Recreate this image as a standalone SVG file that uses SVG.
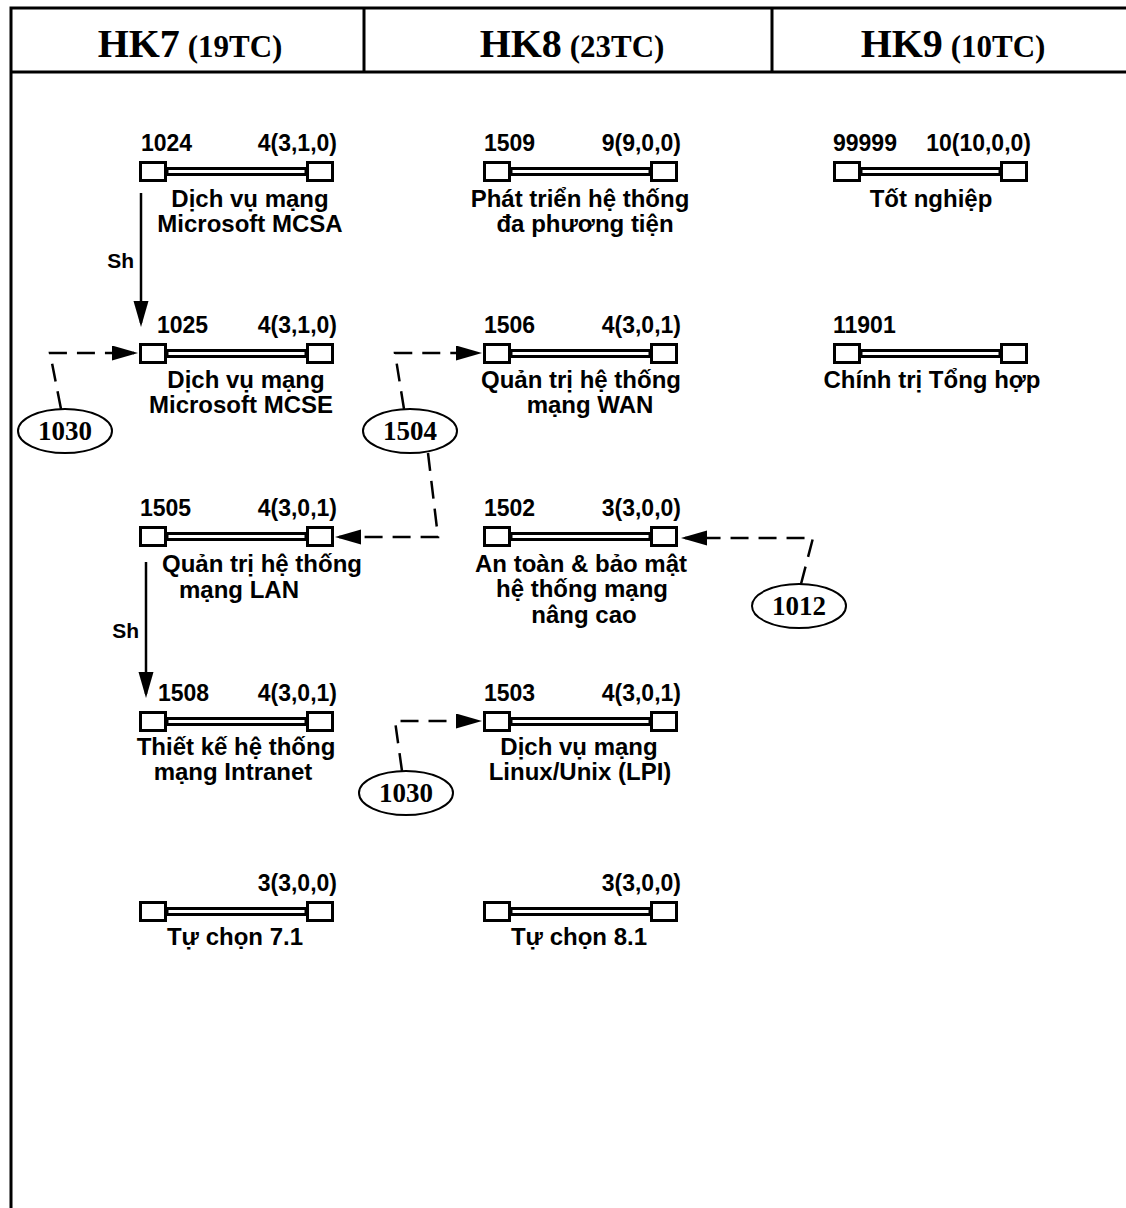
<svg xmlns="http://www.w3.org/2000/svg" width="1126" height="1208" viewBox="0 0 1126 1208">
<defs>
<style>
.frame{fill:none;stroke:#000;stroke-width:3}
.box{fill:#fff;stroke:#000;stroke-width:3}
.bar{fill:#fff;stroke:#000;stroke-width:3}
.t{font-family:"Liberation Sans",Arial,sans-serif;font-weight:bold;font-size:23px;fill:#000}
.l{font-size:24px}
.c{text-anchor:middle}
.r{text-anchor:end}
.sh{font-family:"Liberation Sans",Arial,sans-serif;font-weight:bold;font-size:21px;fill:#000;text-anchor:end}
.h{font-family:"Liberation Serif","Times New Roman",serif;font-weight:bold;fill:#000;text-anchor:middle}
.hb{font-size:40px}
.hs{font-size:31px}
.el{fill:#fff;stroke:#000;stroke-width:2}
.et{font-family:"Liberation Serif","Times New Roman",serif;font-weight:bold;font-size:27px;fill:#000;text-anchor:middle}
.dash{fill:none;stroke:#000;stroke-width:2.5;stroke-dasharray:18 10}
.solid{fill:none;stroke:#000;stroke-width:2.5}
</style>
<marker id="ah" markerUnits="userSpaceOnUse" viewBox="0 0 28 16" markerWidth="28" markerHeight="16" refX="22" refY="7.5" orient="auto">
<path d="M0,0 L26,7.5 L0,15 z" fill="#000"/>
</marker>
</defs>
<rect width="1126" height="1208" fill="#fff"/>
<g id="frame">
<path class="frame" d="M11 1208 V8 H1126 M11 72 H1126 M364 8 V72 M772 8 V72"/>
<text class="h" x="190" y="57"><tspan class="hb">HK7</tspan><tspan class="hs"> (19TC)</tspan></text>
<text class="h" x="572" y="57"><tspan class="hb">HK8</tspan><tspan class="hs"> (23TC)</tspan></text>
<text class="h" x="953" y="57"><tspan class="hb">HK9</tspan><tspan class="hs"> (10TC)</tspan></text>
</g>
<g id="n1024" transform="translate(139,161)">
<rect class="bar" x="28" y="7.5" width="139" height="6"/>
<rect class="box" x="1.5" y="1.5" width="25" height="18"/>
<rect class="box" x="168.5" y="1.5" width="25" height="18"/>
<text class="t" x="2" y="-10">1024</text>
<text class="t r" x="198" y="-10">4(3,1,0)</text>
<text class="t l c" x="111" y="46">Dịch vụ mạng</text>
<text class="t l c" x="111" y="71">Microsoft MCSA</text>
</g>
<g id="n1025" transform="translate(139,343)">
<rect class="bar" x="28" y="7.5" width="139" height="6"/>
<rect class="box" x="1.5" y="1.5" width="25" height="18"/>
<rect class="box" x="168.5" y="1.5" width="25" height="18"/>
<text class="t" x="18" y="-10">1025</text>
<text class="t r" x="198" y="-10">4(3,1,0)</text>
<text class="t l c" x="107" y="45">Dịch vụ mạng</text>
<text class="t l c" x="102" y="70">Microsoft MCSE</text>
</g>
<g id="n1505" transform="translate(139,526)">
<rect class="bar" x="28" y="7.5" width="139" height="6"/>
<rect class="box" x="1.5" y="1.5" width="25" height="18"/>
<rect class="box" x="168.5" y="1.5" width="25" height="18"/>
<text class="t" x="1" y="-10">1505</text>
<text class="t r" x="198" y="-10">4(3,0,1)</text>
<text class="t l c" x="123" y="46">Quản trị hệ thống</text>
<text class="t l c" x="100" y="72">mạng LAN</text>
</g>
<g id="n1508" transform="translate(139,711)">
<rect class="bar" x="28" y="7.5" width="139" height="6"/>
<rect class="box" x="1.5" y="1.5" width="25" height="18"/>
<rect class="box" x="168.5" y="1.5" width="25" height="18"/>
<text class="t" x="19" y="-10">1508</text>
<text class="t r" x="198" y="-10">4(3,0,1)</text>
<text class="t l c" x="97" y="44">Thiết kế hệ thống</text>
<text class="t l c" x="94" y="69">mạng Intranet</text>
</g>
<g id="ntc71" transform="translate(139,901)">
<rect class="bar" x="28" y="7.5" width="139" height="6"/>
<rect class="box" x="1.5" y="1.5" width="25" height="18"/>
<rect class="box" x="168.5" y="1.5" width="25" height="18"/>
<text class="t r" x="198" y="-10">3(3,0,0)</text>
<text class="t l c" x="96" y="44">Tự chọn 7.1</text>
</g>
<g id="n1509" transform="translate(483,161)">
<rect class="bar" x="28" y="7.5" width="139" height="6"/>
<rect class="box" x="1.5" y="1.5" width="25" height="18"/>
<rect class="box" x="168.5" y="1.5" width="25" height="18"/>
<text class="t" x="1" y="-10">1509</text>
<text class="t r" x="198" y="-10">9(9,0,0)</text>
<text class="t l c" x="97" y="46">Phát triển hệ thống</text>
<text class="t l c" x="102" y="71">đa phương tiện</text>
</g>
<g id="n1506" transform="translate(483,343)">
<rect class="bar" x="28" y="7.5" width="139" height="6"/>
<rect class="box" x="1.5" y="1.5" width="25" height="18"/>
<rect class="box" x="168.5" y="1.5" width="25" height="18"/>
<text class="t" x="1" y="-10">1506</text>
<text class="t r" x="198" y="-10">4(3,0,1)</text>
<text class="t l c" x="98" y="45">Quản trị hệ thống</text>
<text class="t l c" x="107" y="70">mạng WAN</text>
</g>
<g id="n1502" transform="translate(483,526)">
<rect class="bar" x="28" y="7.5" width="139" height="6"/>
<rect class="box" x="1.5" y="1.5" width="25" height="18"/>
<rect class="box" x="168.5" y="1.5" width="25" height="18"/>
<text class="t" x="1" y="-10">1502</text>
<text class="t r" x="198" y="-10">3(3,0,0)</text>
<text class="t l c" x="98" y="46">An toàn &amp; bảo mật</text>
<text class="t l c" x="99" y="71">hệ thống mạng</text>
<text class="t l c" x="101" y="97">nâng cao</text>
</g>
<g id="n1503" transform="translate(483,711)">
<rect class="bar" x="28" y="7.5" width="139" height="6"/>
<rect class="box" x="1.5" y="1.5" width="25" height="18"/>
<rect class="box" x="168.5" y="1.5" width="25" height="18"/>
<text class="t" x="1" y="-10">1503</text>
<text class="t r" x="198" y="-10">4(3,0,1)</text>
<text class="t l c" x="96" y="44">Dịch vụ mạng</text>
<text class="t l c" x="97" y="69">Linux/Unix (LPI)</text>
</g>
<g id="ntc81" transform="translate(483,901)">
<rect class="bar" x="28" y="7.5" width="139" height="6"/>
<rect class="box" x="1.5" y="1.5" width="25" height="18"/>
<rect class="box" x="168.5" y="1.5" width="25" height="18"/>
<text class="t r" x="198" y="-10">3(3,0,0)</text>
<text class="t l c" x="96" y="44">Tự chọn 8.1</text>
</g>
<g id="n99999" transform="translate(833,161)">
<rect class="bar" x="28" y="7.5" width="139" height="6"/>
<rect class="box" x="1.5" y="1.5" width="25" height="18"/>
<rect class="box" x="168.5" y="1.5" width="25" height="18"/>
<text class="t" x="0" y="-10">99999</text>
<text class="t r" x="198" y="-10">10(10,0,0)</text>
<text class="t l c" x="98" y="46">Tốt nghiệp</text>
</g>
<g id="n11901" transform="translate(833,343)">
<rect class="bar" x="28" y="7.5" width="139" height="6"/>
<rect class="box" x="1.5" y="1.5" width="25" height="18"/>
<rect class="box" x="168.5" y="1.5" width="25" height="18"/>
<text class="t" x="0" y="-10">11901</text>
<text class="t l c" x="99" y="45">Chính trị Tổng hợp</text>
</g>
<g id="connectors">
<path class="solid" d="M141 193 V323" marker-end="url(#ah)"/>
<text class="sh" x="134" y="268">Sh</text>
<path class="solid" d="M146 562 V694" marker-end="url(#ah)"/>
<text class="sh" x="139" y="638">Sh</text>
<path class="dash" d="M61 409 L50 353 L134 353" marker-end="url(#ah)"/>
<path class="dash" d="M404 409 L395 353 L478 353" marker-end="url(#ah)"/>
<path class="dash" d="M428 453 L438 537 L339 537" marker-end="url(#ah)"/>
<path class="dash" d="M801 584 L813 538 L685 538" marker-end="url(#ah)"/>
<path class="dash" d="M402 771 L395 721 L478 721" marker-end="url(#ah)"/>
</g>
<g id="e1030a">
<ellipse class="el" cx="65" cy="431" rx="47" ry="22"/>
<text class="et" x="65" y="440">1030</text>
</g>
<g id="e1504">
<ellipse class="el" cx="410" cy="431" rx="47" ry="22"/>
<text class="et" x="410" y="440">1504</text>
</g>
<g id="e1012">
<ellipse class="el" cx="799" cy="606" rx="47" ry="22"/>
<text class="et" x="799" y="615">1012</text>
</g>
<g id="e1030b">
<ellipse class="el" cx="406" cy="793" rx="47" ry="22"/>
<text class="et" x="406" y="802">1030</text>
</g>
</svg>
